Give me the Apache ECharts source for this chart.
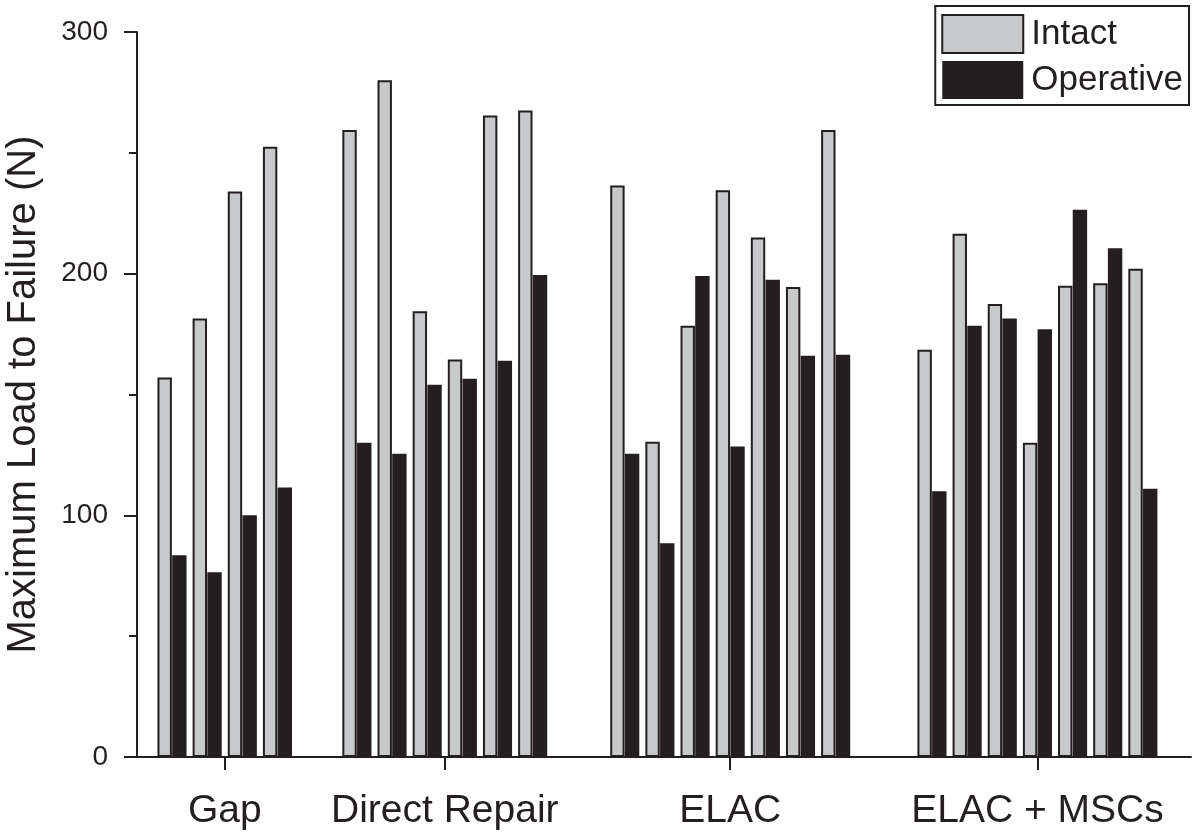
<!DOCTYPE html>
<html>
<head>
<meta charset="utf-8">
<script src="https://cdn.jsdelivr.net/npm/echarts@6/dist/echarts.min.js"></script>
<style>
html,body{margin:0;padding:0;background:#fff;}
#chart{width:1200px;height:839px;}
</style>
</head>
<body>
<div id="chart"></div>
<script>
// ---- data ----
const groupNames = ['Gap', 'Direct Repair', 'ELAC', 'ELAC + MSCs'];
const intactGap = [157, 181.5, 234, 252.5];
const operativeGap = [83.5, 76.5, 100, 111.5];
const intactDirect = [259.5, 280, 184.5, 164.5, 265.5, 267.5];
const operativeDirect = [130, 125.5, 154, 156.5, 164, 199.5];
const intactELAC = [236.5, 130.5, 178.5, 234.5, 215, 194.5, 259.5];
const operativeELAC = [125.5, 88.5, 199, 128.5, 197.5, 166, 166.5];
const intactMSC = [168.5, 216.5, 187.5, 130, 195, 196, 202];
const operativeMSC = [110, 178.5, 181.5, 177, 226.5, 210.5, 111];
const yTicks = [0, 100, 200, 300];

// ---- layout (pair-slot units) ----
const intactSets = [intactGap, intactDirect, intactELAC, intactMSC];
const operativeSets = [operativeGap, operativeDirect, operativeELAC, operativeMSC];
const groupSpacing = [0, 1.26, 1.62, 1.74]; // extra empty space before each group
const barOffset = 0.418; // operative bar sits right next to intact bar

const intactData = [], operativeData = [], groupCenters = [];
let pos = 0;
intactSets.forEach((set, g) => {
  pos += groupSpacing[g];
  const start = pos;
  set.forEach((v, i) => {
    intactData.push([pos, v]);
    operativeData.push([pos + barOffset, operativeSets[g][i]]);
    pos += 1;
  });
  groupCenters.push((start + (pos - 1) + barOffset) / 2);
});

const xMin = -0.787, xMax = 29.198;
const barPx = 14.4;

const FONT = '"Liberation Sans", Arial, Helvetica, sans-serif';
const INK = '#231f20';
const chart = echarts.init(document.getElementById('chart'), null, {renderer: 'canvas'});
chart.setOption({
  animation: false,
  backgroundColor: '#ffffff',
  grid: {left: 137, right: 9, top: 32, bottom: 82, containLabel: false, outerBoundsMode: 'none'},
  legend: {
    orient: 'vertical',
    right: 11, top: 6,
    borderColor: INK, borderWidth: 2,
    padding: [8, 6, 6, 6],
    itemWidth: 81, itemHeight: 38, itemGap: 7,
    icon: 'rect',
    textStyle: {fontSize: 35, color: INK, fontFamily: FONT, padding: [0, 0, 0, 3]},
    data: ['Intact', 'Operative']
  },
  xAxis: {
    type: 'value',
    min: xMin, max: xMax,
    splitLine: {show: false},
    axisLine: {show: true, onZero: false, lineStyle: {color: INK, width: 2}},
    axisTick: {show: true, length: 13, lineStyle: {color: INK, width: 2}, customValues: groupCenters},
    axisLabel: {
      show: true, margin: 35, fontSize: 39, color: INK, fontFamily: FONT,
      customValues: groupCenters,
      formatter: function (v) {
        let best = 0, d = Infinity;
        groupCenters.forEach((c, i) => { if (Math.abs(c - v) < d) { d = Math.abs(c - v); best = i; } });
        return groupNames[best];
      }
    }
  },
  yAxis: {
    type: 'value',
    min: yTicks[0], max: yTicks[yTicks.length - 1], interval: 100,
    name: 'Maximum Load to Failure (N)',
    nameLocation: 'middle', nameGap: 93,
    nameTextStyle: {fontSize: 40, color: INK, fontFamily: FONT},
    splitLine: {show: false},
    axisLine: {show: true, onZero: false, lineStyle: {color: INK, width: 2}},
    axisTick: {show: true, length: 13, lineStyle: {color: INK, width: 2}},
    minorTick: {show: true, splitNumber: 2, length: 8, lineStyle: {color: INK, width: 2}},
    axisLabel: {margin: 29, fontSize: 28, color: INK, fontFamily: FONT}
  },
  series: [
    {
      name: 'Intact', type: 'bar', data: intactData,
      barWidth: barPx, barGap: '-100%',
      itemStyle: {color: '#c8c9cb', borderColor: INK, borderWidth: 2}
    },
    {
      name: 'Operative', type: 'bar', data: operativeData,
      barWidth: barPx, barGap: '-100%',
      itemStyle: {color: INK, borderWidth: 0}
    }
  ]
});
</script>
</body>
</html>
